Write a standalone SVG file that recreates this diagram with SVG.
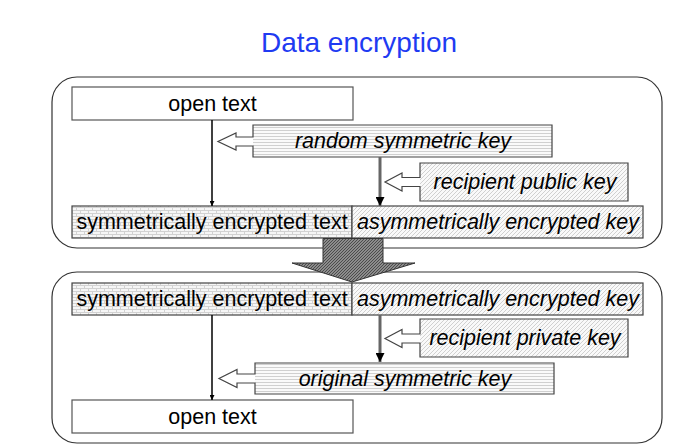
<svg xmlns="http://www.w3.org/2000/svg" width="680" height="445" viewBox="0 0 680 445">
<defs>
<style>
.t{font-family:"Liberation Sans",Arial,sans-serif;font-size:21.5px;fill:#000;text-anchor:middle}
.i{font-style:italic}
.title{font-family:"Liberation Sans",Arial,sans-serif;font-size:28px;fill:#1f3bf2;text-anchor:middle}
.frame{fill:#fff;stroke:#333;stroke-width:1.2}
.box{stroke:#444;stroke-width:1.2}
.outline{fill:none;stroke:#444;stroke-width:1.2}
.harrow{fill:#fff;stroke:none}
.blk{stroke:#000;stroke-width:1.5;fill:none}
.gry{stroke:#666;stroke-width:3;fill:none}
</style>
<pattern id="brick" width="8" height="6" patternUnits="userSpaceOnUse">
<rect width="8" height="6" fill="#f6f6f6"/>
<path d="M0 0.5H8M0 3.5H8M0.5 0.5V3.5M4.5 3.5V6" stroke="#d2d2d2" stroke-width="1"/>
</pattern>
<pattern id="diag" width="4" height="4" patternUnits="userSpaceOnUse">
<rect width="4" height="4" fill="#f9f9f9"/>
<path d="M-1 1L1 -1M0 4L4 0M3 5L5 3" stroke="#d0d0d0" stroke-width="1"/>
</pattern>
<pattern id="horiz" width="4" height="3" patternUnits="userSpaceOnUse">
<rect width="4" height="3" fill="#fafafa"/>
<path d="M0 1.5H4" stroke="#d0d0d0" stroke-width="1"/>
</pattern>
<pattern id="dark" width="3" height="3" patternUnits="userSpaceOnUse">
<rect width="3" height="3" fill="#8c8c8c"/>
<path d="M-1 1L1 -1M0 3L3 0M2 4L4 2" stroke="#444" stroke-width="0.9"/>
</pattern>
<marker id="ah" viewBox="0 0 10 10" refX="10" refY="5" markerWidth="5" markerHeight="5" markerUnits="userSpaceOnUse" orient="auto">
<path d="M0 0L10 5L0 10Z" fill="#000"/>
</marker>
<marker id="ahg" viewBox="0 0 10 10" refX="10" refY="5" markerWidth="3" markerHeight="3" orient="auto">
<path d="M0 0L10 5L0 10Z" fill="#000"/>
</marker>
</defs>

<text class="title" x="359" y="52">Data encryption</text>

<g id="frame-top"><rect class="frame" x="52" y="77" width="610" height="171" rx="25"/></g>
<g id="frame-bottom"><rect class="frame" x="52" y="272" width="610" height="171" rx="25"/></g>

<g id="open-text-top">
<rect x="72" y="87" width="281" height="33" fill="#fff" stroke="#555" stroke-width="1.2"/>
<text class="t" x="212.5" y="111">open text</text>
</g>

<g id="random-key">
<rect x="253" y="125" width="299" height="32" fill="url(#horiz)"/>
<path class="harrow" d="M253 137H236V133L218 141.5L236 150V146H253Z"/>
<path class="outline" d="M253 137V125H552V157H253V146H236V150L218 141.5L236 133V137Z"/>
<text class="t i" x="403" y="148">random symmetric key</text>
</g>

<g id="public-key">
<rect x="420" y="163" width="208" height="38" fill="url(#diag)"/>
<path class="harrow" d="M420 177.5H402V173L385 182L402 191V186.5H420Z"/>
<path class="outline" d="M420 177.5V163H628V201H420V186.5H402V191L385 182L402 173V177.5Z"/>
<text class="t i" x="525" y="189">recipient public key</text>
</g>

<g id="sym-text-top">
<rect class="box" x="72" y="206" width="280" height="32" fill="url(#brick)"/>
<text class="t" x="212" y="229">symmetrically encrypted text</text>
</g>
<g id="asym-key-top">
<rect class="box" x="352" y="206" width="291" height="32" fill="url(#diag)"/>
<text class="t i" x="498" y="229">asymmetrically encrypted key</text>
</g>

<g id="sym-text-bottom">
<rect class="box" x="72" y="283" width="280" height="32" fill="url(#brick)"/>
<text class="t" x="212" y="306">symmetrically encrypted text</text>
</g>
<g id="asym-key-bottom">
<rect class="box" x="352" y="283" width="291" height="32" fill="url(#diag)"/>
<text class="t i" x="498" y="306">asymmetrically encrypted key</text>
</g>

<g id="private-key">
<rect x="420" y="319" width="208" height="38" fill="url(#diag)"/>
<path class="harrow" d="M420 334H402V329.5L385 338.5L402 347.5V343H420Z"/>
<path class="outline" d="M420 334V319H628V357H420V343H402V347.5L385 338.5L402 329.5V334Z"/>
<text class="t i" x="525" y="345">recipient private key</text>
</g>

<g id="original-key">
<rect x="255" y="363" width="299" height="31" fill="url(#horiz)"/>
<path class="harrow" d="M255 374H237V369.5L219 378.5L237 387.5V383H255Z"/>
<path class="outline" d="M255 374V363H554V394H255V383H237V387.5L219 378.5L237 369.5V374Z"/>
<text class="t i" x="405" y="385.5">original symmetric key</text>
</g>

<g id="open-text-bottom">
<rect x="72" y="400" width="281" height="33" fill="#fff" stroke="#555" stroke-width="1.2"/>
<text class="t" x="212.5" y="424">open text</text>
</g>

<g id="connectors">
<line class="blk" x1="212" y1="120" x2="212" y2="206" marker-end="url(#ah)"/>
<line class="gry" x1="380" y1="157" x2="380" y2="206" marker-end="url(#ahg)"/>
<line class="blk" x1="212" y1="315" x2="212" y2="400" marker-end="url(#ah)"/>
<line class="gry" x1="380" y1="315" x2="380" y2="362" marker-end="url(#ahg)"/>
<path d="M323 238.5H383V263H415L352 282L292 263H323Z" fill="url(#dark)" stroke="#333" stroke-width="1"/>
</g>
</svg>
